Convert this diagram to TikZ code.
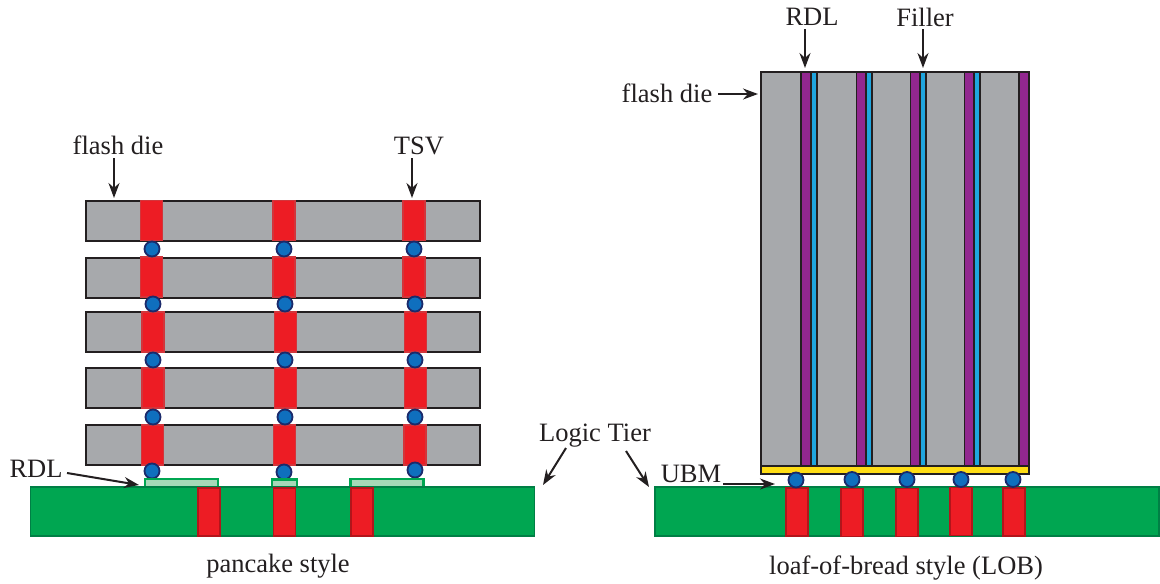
\documentclass[tikz,border=0pt]{standalone}
\usepackage{fontspec}
\setmainfont{Liberation Serif}
\usetikzlibrary{arrows.meta}
\definecolor{diegrey}{HTML}{A7A9AC}
\definecolor{tsvred}{HTML}{ED1C24}
\definecolor{tiergreen}{HTML}{00A651}
\definecolor{tierline}{HTML}{007F45}
\definecolor{padlight}{HTML}{A6D9B8}
\definecolor{ballblue}{HTML}{0F6FBE}
\definecolor{ballline}{HTML}{1B2A6B}
\definecolor{rdlpurple}{HTML}{92278F}
\definecolor{fillerblue}{HTML}{1FA5DE}
\definecolor{ubmyellow}{HTML}{FFDD15}
\definecolor{inkline}{HTML}{231F20}
\begin{document}
\begin{tikzpicture}[x=1pt,y=-1pt,
		every node/.style={inner sep=0pt,outer sep=0pt},
		txt/.style={font=\fontsize{26.5}{30}\selectfont,text=inkline},
		die/.style={draw=inkline,fill=diegrey,line width=2pt,minimum width=394pt,minimum height=40pt},
		slice/.style={draw=inkline,fill=diegrey,line width=1.6pt,minimum width=40pt,minimum height=394pt},
		tsv/.style={draw=tsvred!75!gray,fill=tsvred,line width=1.6pt,minimum width=22pt,minimum height=40pt},
		ttsv/.style={tsv,draw=tsvred!75!black,minimum height=48pt},
		ball/.style={circle,draw=ballline,fill=ballblue,line width=1.8pt,minimum size=15pt},
		tier/.style={draw=tierline,fill=tiergreen,line width=1.6pt,minimum width=504pt,minimum height=49pt},
		pad/.style={draw=tiergreen,fill=padlight,line width=2.2pt,minimum height=8pt},
		rdl/.style={draw=inkline,fill=rdlpurple,line width=1.2pt,minimum width=10pt,minimum height=394pt},
		filler/.style={draw=inkline,fill=fillerblue,line width=1.2pt,minimum width=6pt,minimum height=394pt},
		arr/.style={draw=inkline,line width=2pt,-{Stealth[length=15pt,width=11pt]}}]
	\useasboundingbox (0,0) rectangle (1160,584);

	\node[die] (d1) at (283,221) {};
	\node[die] (d2) at (283,277.5) {};
	\node[die] (d3) at (283,332) {};
	\node[die] (d4) at (283,388) {};
	\node[die] (d5) at (282.5,445) {};

	\node[tsv] (t11) at (151.5,220.5) {};
	\node[tsv] (t12) at (284,220.5) {};
	\node[tsv] (t13) at (414,220.5) {};
	\node[tsv] (t21) at (151.5,277) {};
	\node[tsv] (t22) at (284,277) {};
	\node[tsv] (t23) at (414,277) {};
	\node[tsv] (t31) at (153,332) {};
	\node[tsv] (t32) at (285.5,332) {};
	\node[tsv] (t33) at (415.5,332) {};
	\node[tsv] (t41) at (153,388) {};
	\node[tsv] (t42) at (285.5,388) {};
	\node[tsv] (t43) at (415.5,388) {};
	\node[tsv] (t51) at (152.5,445) {};
	\node[tsv] (t52) at (284.5,445) {};
	\node[tsv] (t53) at (415,445) {};

	\node[ball] (b11) at (152,249) {};
	\node[ball] (b12) at (284,249) {};
	\node[ball] (b13) at (414,249) {};
	\node[ball] (b21) at (153,304) {};
	\node[ball] (b22) at (285,304) {};
	\node[ball] (b23) at (415,304) {};
	\node[ball] (b31) at (153,360) {};
	\node[ball] (b32) at (285,360) {};
	\node[ball] (b33) at (415,360) {};
	\node[ball] (b41) at (153,417) {};
	\node[ball] (b42) at (285,417) {};
	\node[ball] (b43) at (415,417) {};
	\node[ball] (b51) at (152,471) {};
	\node[ball] (b52) at (284,472) {};
	\node[ball] (b53) at (415,470) {};

	\node[pad,minimum width=73pt] (p1) at (181.5,483) {};
	\node[pad,minimum width=25pt] (p2) at (284.5,483.5) {};
	\node[pad,minimum width=73pt] (p3) at (387,483) {};
	\node[tier] (lt) at (282.5,511.5) {};
	\node[ttsv] (lt1) at (209,512) {};
	\node[ttsv] (lt2) at (284.5,512) {};
	\node[ttsv] (lt3) at (362,512) {};

	\node[slice] (g1) at (781,269) {};
	\node[slice] (g2) at (837,269) {};
	\node[slice] (g3) at (891.5,269) {};
	\node[slice] (g4) at (945.5,269) {};
	\node[slice] (g5) at (999.5,269) {};
	\node[rdl] (r1) at (806,269) {};
	\node[rdl] (r2) at (861.5,269) {};
	\node[rdl] (r3) at (915.5,269) {};
	\node[rdl] (r4) at (969.5,269) {};
	\node[rdl] (r5) at (1024,269) {};
	\node[filler] (f1) at (814,269) {};
	\node[filler] (f2) at (869,269) {};
	\node[filler] (f3) at (923,269) {};
	\node[filler] (f4) at (977,269) {};

	\node[draw=inkline,fill=ubmyellow,line width=2pt,minimum width=268pt,minimum height=8pt] (ubm) at (895,469.5) {};
	\node[tier] (rt) at (907,511.5) {};
	\node[ttsv] (rt1) at (797,512) {};
	\node[ttsv] (rt2) at (852,512.5) {};
	\node[ttsv] (rt3) at (907,512.5) {};
	\node[ttsv] (rt4) at (961,511.5) {};
	\node[ttsv] (rt5) at (1014,512) {};
	\node[ball] (u1) at (796,480) {};
	\node[ball] (u2) at (852,479.5) {};
	\node[ball] (u3) at (907,479.5) {};
	\node[ball] (u4) at (961,479.5) {};
	\node[ball] (u5) at (1013,479.5) {};

	\node[txt] (lflash) at (118,145) {flash die};
	\node[txt] (ltsv) at (419,146) {TSV};
	\node[txt] (lrdl) at (36,469) {RDL};
	\node[txt] (llogic) at (595,436) {Logic Tier};
	\node[txt] (lubm) at (691,474) {UBM};
	\node[txt] (lpan) at (278,566) {pancake style};
	\node[txt] (lloaf) at (906,568) {loaf-of-bread style (LOB)};
	\node[txt] (rrdl) at (812,17) {RDL};
	\node[txt] (rfill) at (925,17) {Filler};
	\node[txt] (rflash) at (667,93) {flash die};

	\coordinate (aflash) at (114,198);
	\coordinate (atsv) at (412,198);
	\coordinate (ardl) at (139,485);
	\coordinate (alog1) at (543,485);
	\coordinate (alog2) at (649,487);
	\coordinate (aubm) at (775,484);
	\coordinate (arrdl) at (805,68);
	\coordinate (arfill) at (923,68);
	\coordinate (arflash) at (758,94);

	\draw[arr] (114,158) -- (aflash);
	\draw[arr] (412,158) -- (atsv);
	\draw[arr] (67,473) -- (ardl);
	\draw[arr] (566,448) -- (alog1);
	\draw[arr] (626,451) -- (alog2);
	\draw[arr] (723,484) -- (aubm);
	\draw[arr] (805,29) -- (arrdl);
	\draw[arr] (923,29) -- (arfill);
	\draw[arr] (718,94) -- (arflash);
\end{tikzpicture}
\end{document}
